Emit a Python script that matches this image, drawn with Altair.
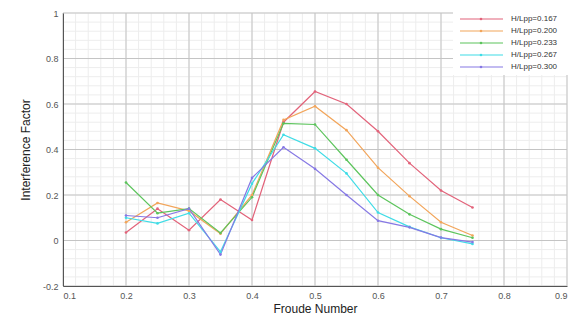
import altair as alt
import pandas as pd
import numpy as np

froude = [0.2, 0.25, 0.3, 0.35, 0.4, 0.45, 0.5, 0.55, 0.6, 0.65, 0.7, 0.75]
series_labels = ["H/Lpp=0.167", "H/Lpp=0.200", "H/Lpp=0.233", "H/Lpp=0.267", "H/Lpp=0.300"]
h167 = [0.035, 0.14, 0.045, 0.18, 0.09, 0.52, 0.655, 0.60, 0.48, 0.34, 0.22, 0.145]
h200 = [0.08, 0.165, 0.13, 0.03, 0.20, 0.53, 0.59, 0.485, 0.32, 0.195, 0.08, 0.022]
h233 = [0.255, 0.12, 0.14, 0.033, 0.19, 0.515, 0.51, 0.355, 0.20, 0.115, 0.05, 0.012]
h267 = [0.10, 0.075, 0.12, -0.05, 0.25, 0.465, 0.405, 0.295, 0.123, 0.06, 0.012, -0.015]
h300 = [0.11, 0.10, 0.14, -0.062, 0.275, 0.41, 0.315, 0.20, 0.087, 0.058, 0.013, -0.007]
colors = ["#e2637a", "#f2a55a", "#5cc45c", "#3fdce6", "#8678e4"]

x_ticks = [0.1, 0.2, 0.3, 0.4, 0.5, 0.6, 0.7, 0.8, 0.9]
y_ticks = [-0.2, 0, 0.2, 0.4, 0.6, 0.8, 1]

rows = []
for lab, vals in zip(series_labels, [h167, h200, h233, h267, h300]):
    for f, v in zip(froude, vals):
        rows.append({"froude": f, "value": v, "series": lab})
df = pd.DataFrame(rows)

FONT = "Liberation Sans"
xscale = alt.Scale(domain=[0.1, 0.9], nice=False, zero=False)
yscale = alt.Scale(domain=[-0.2, 1], nice=False, zero=False)
color = alt.Color("series:N", scale=alt.Scale(domain=series_labels, range=colors), legend=None)

x_axis = alt.Axis(values=x_ticks, title="Froude Number", grid=False, ticks=False,
                  labelExpr="datum.value + ''", labelFont=FONT, labelFontSize=9,
                  labelColor="#555555", labelPadding=5, titleFont=FONT,
                  titleFontSize=12, titleFontWeight="normal", titleColor="#222222",
                  titlePadding=3, domainColor="#555555", zindex=1)
y_axis = alt.Axis(values=y_ticks, title="Interference Factor", grid=False, ticks=False,
                  labelExpr="datum.value + ''", labelFont=FONT, labelFontSize=9,
                  labelColor="#555555", labelPadding=5, titleFont=FONT,
                  titleFontSize=12, titleFontWeight="normal", titleColor="#222222",
                  titlePadding=10, domainColor="#555555", zindex=1)

minor_x = pd.DataFrame({"x": np.round(np.arange(0.1, 0.9001, 0.02), 3)})
minor_y = pd.DataFrame({"y": np.round(np.arange(-0.2, 1.0001, 0.04), 3)})
major_x = pd.DataFrame({"x": x_ticks})
major_y = pd.DataFrame({"y": y_ticks})

minor_x_rules = alt.Chart(minor_x).mark_rule(color="#ededed", strokeWidth=1).encode(
    x=alt.X("x:Q", scale=xscale, axis=x_axis))
minor_y_rules = alt.Chart(minor_y).mark_rule(color="#ededed", strokeWidth=1).encode(
    y=alt.Y("y:Q", scale=yscale, axis=None))
major_x_rules = alt.Chart(major_x).mark_rule(color="#c4c4c4", strokeWidth=1).encode(
    x=alt.X("x:Q", scale=xscale, axis=x_axis))
major_y_rules = alt.Chart(major_y).mark_rule(color="#c4c4c4", strokeWidth=1).encode(
    y=alt.Y("y:Q", scale=yscale, axis=None))

lines = alt.Chart(df).mark_line(
    strokeWidth=1.2, point=alt.OverlayMarkDef(size=7, filled=True)
).encode(
    x=alt.X("froude:Q", scale=xscale, axis=x_axis),
    y=alt.Y("value:Q", scale=yscale, axis=y_axis),
    color=color,
)

legend_df = pd.DataFrame({"series": series_labels})
leg_y = alt.Y("series:N", scale=alt.Scale(type="point", domain=series_labels, range=[6, 54], padding=0),
              axis=None)
legend_bg = alt.Chart(pd.DataFrame({"a": [0]})).mark_rect(fill="white").encode(
    x=alt.value(390), x2=alt.value(510), y=alt.value(-2), y2=alt.value(62))
legend_rule = alt.Chart(legend_df).mark_rule(strokeWidth=1.2).encode(
    x=alt.value(397), x2=alt.value(440), y=leg_y, color=color)
legend_pt = alt.Chart(legend_df).mark_point(filled=True, size=7, opacity=1).encode(
    x=alt.value(418), y=leg_y, color=color)
legend_txt = alt.Chart(legend_df).mark_text(align="left", baseline="middle", font=FONT,
                                            fontSize=8, color="#333333").encode(
    x=alt.value(448), y=leg_y, text="series:N")

chart = alt.layer(
    minor_x_rules, minor_y_rules, major_x_rules, major_y_rules, lines,
    legend_bg, legend_rule, legend_pt, legend_txt
).resolve_scale(y="independent").properties(
    width=504, height=273,
    autosize=alt.AutoSizeParams(type="none"),
    padding={"left": 55, "top": 5, "right": 9, "bottom": 28},
    background="white",
).configure_view(stroke=None)

chart.save("out.html", embed_options={"renderer": "svg", "actions": False})
